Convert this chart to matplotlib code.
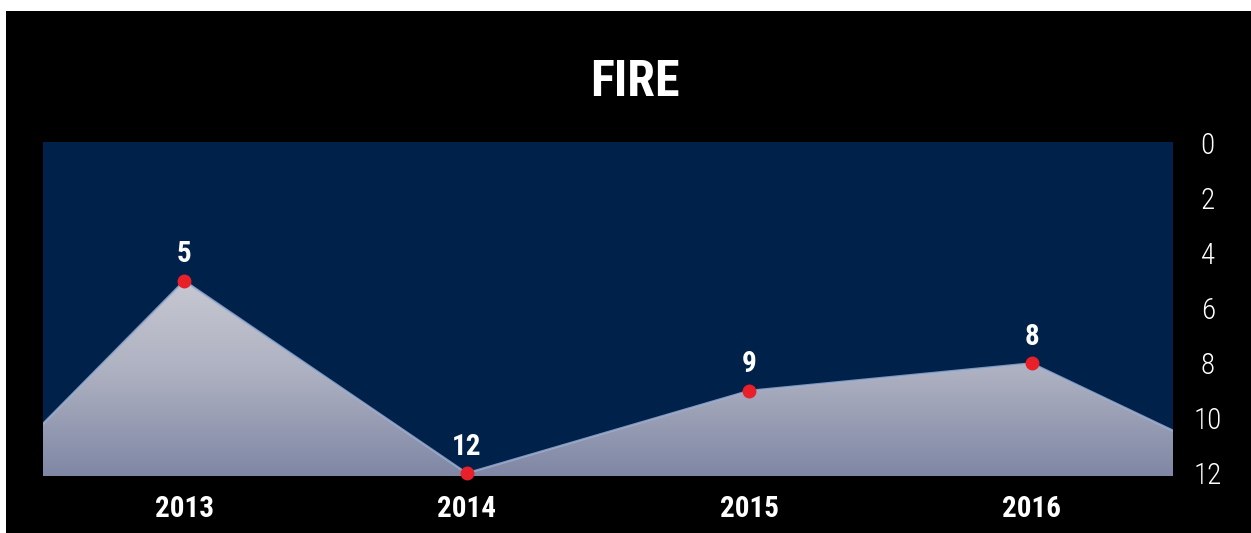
import numpy as np
import matplotlib
matplotlib.use("Agg")
import matplotlib.pyplot as plt
from matplotlib.colors import LinearSegmentedColormap
from matplotlib.patches import Rectangle

# Fire incidents per year
years = [2013, 2014, 2015, 2016]
values = [5, 12, 9, 8]
# where the area runs off the left/right edge of the panel
edge_years = [2012.5, 2016.5]
edge_values = [10.2, 10.45]
y_ticks = [0, 2, 4, 6, 8, 10, 12]

FONT = "Roboto Condensed"
W, H = 1251, 533
Y_BOTTOM, Y_TOP = 12.1, -0.05

fig = plt.figure(figsize=(W / 100, H / 100), dpi=100, facecolor="white")
# black card with thin white margin at top and left
fig.patches.append(Rectangle((6 / W, 0), 1 - 6 / W, 522 / H, transform=fig.transFigure,
                             facecolor="black", edgecolor="none", zorder=-1))

ax = fig.add_axes([43 / W, (H - 476) / H, (1173 - 43) / W, (476 - 142) / H])
ax.set_facecolor("#00214a")

xs = [edge_years[0]] + years + [edge_years[1]]
ys = [edge_values[0]] + values + [edge_values[1]]

ax.set_xlim(edge_years[0], edge_years[1])
ax.set_ylim(Y_BOTTOM, Y_TOP)

# shaded area under the line with a vertical gradient
poly = ax.fill_between(xs, ys, Y_BOTTOM, facecolor="none", edgecolor="none")
cmap = LinearSegmentedColormap.from_list("fill", ["#cacbd4", "#aeb1c1", "#7f87a5"])
grad = np.linspace(0, 1, 256).reshape(-1, 1)
img = ax.imshow(grad, cmap=cmap, aspect="auto",
                extent=[edge_years[0], edge_years[1], Y_BOTTOM, 4.5],
                origin="upper", zorder=1)
img.set_clip_path(poly.get_paths()[0], transform=ax.transData)
ax.plot(xs, ys, color="#9fb3d6", lw=1.6, alpha=0.8, zorder=2)

ax.plot(years, values, "o", color="#e8202a", ms=9, zorder=3, clip_on=False)
for x, v in zip(years, values):
    ax.annotate(str(v), (x, v), xytext=(0, 9), textcoords="offset points",
                ha="center", va="bottom", color="white", fontsize=21,
                fontfamily=FONT, fontweight="bold", zorder=4)

ax.set_xticks(years)
ax.set_xticklabels([str(y) for y in years], fontfamily=FONT, fontweight="bold",
                   fontsize=21, color="white")
ax.tick_params(axis="x", length=0, pad=14)

ax.yaxis.tick_right()
ax.set_yticks(y_ticks)
ax.set_yticklabels([str(t) for t in y_ticks], fontfamily=FONT, fontweight="light",
                   fontsize=21, color="white")
ax.tick_params(axis="y", length=0, pad=25)
for lab in ax.get_yticklabels():
    lab.set_horizontalalignment("center")

for s in ax.spines.values():
    s.set_visible(False)

fig.text(635 / W, 1 - 83 / H, "FIRE", ha="center", va="center", color="white",
         fontsize=36, fontfamily=FONT, fontweight="bold")

fig.savefig("out.png", dpi=100, facecolor=fig.get_facecolor())
